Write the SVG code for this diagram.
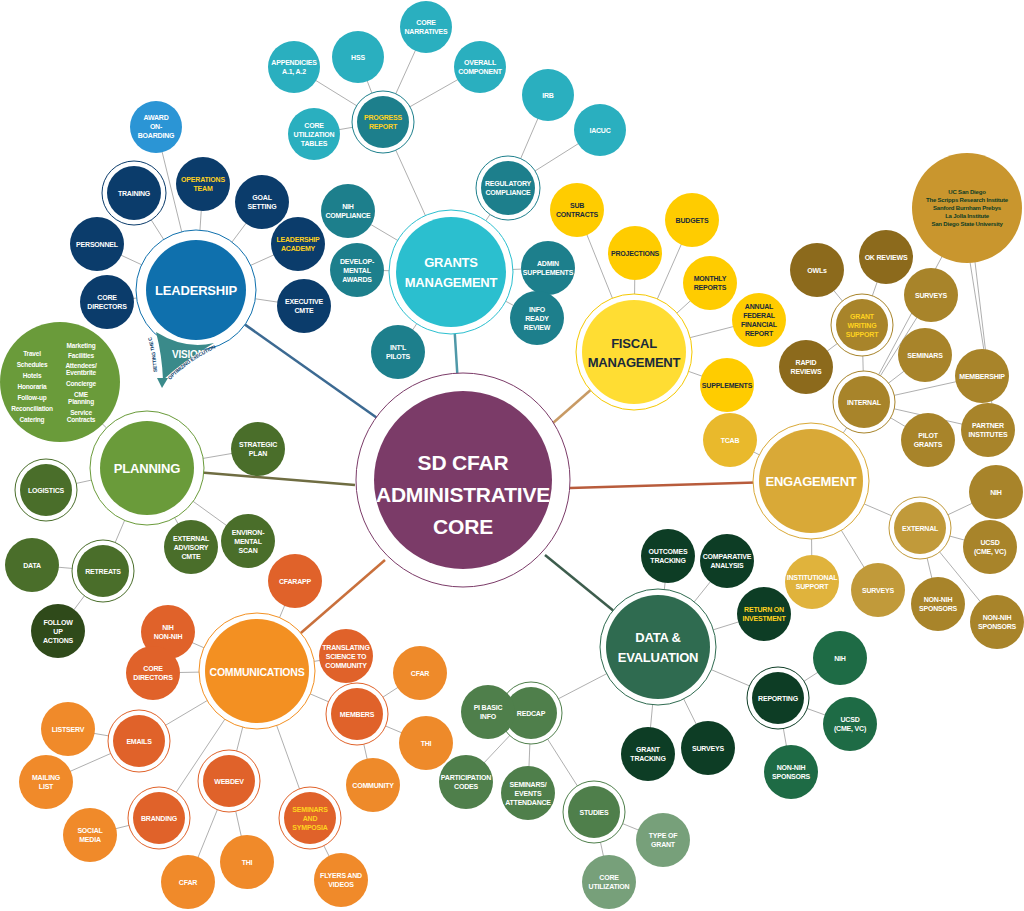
<svg xmlns="http://www.w3.org/2000/svg" width="1024" height="911" viewBox="0 0 1024 911">
<style>
text{font-family:"Liberation Sans Narrow","Liberation Sans",Arial,sans-serif;font-weight:bold;fill:#fff;text-anchor:middle;font-size:7px;letter-spacing:-0.2px}
.y{fill:#ffd21f}.d{fill:#1a2a3a}.g{fill:#0d3d25;font-size:6px}
.hub{font-size:13px}
.cen{font-size:21px}
.lst{font-size:6.5px}
.vis{font-size:10px}
.sm{font-size:5px;fill:#0b3c6b;text-anchor:start}
.ring{fill:#fff;stroke-width:1}
.ln{stroke:#9a9a9a;stroke-width:0.8;fill:none}
</style>
<rect width="1024" height="911" fill="#fff"/>
<g id="connectors">
<g class="ln">
<path d="M196 290L156 127M196 290L134 193M196 290L203 184M196 290L262 202M196 290L97 244M196 290L298 244M196 290L107 302M196 290L304 306"/>
<path d="M451 272L383 122M383 122L294 67M383 122L358 57M383 122L426 27M383 122L480 67M383 122L314 134M451 272L508 188M508 188L548 95M508 188L600 130M451 272L348 211M451 272L357 270M451 272L548 268M451 272L537 318M451 272L398 352"/>
<path d="M634 352L577 210M634 352L692 220M634 352L635 253M634 352L710 283M634 352L759 320M634 352L727 385"/>
<path d="M811 481L730 440M811 481L864 402M864 402L862 325M862 325L817 270M862 325L886 257M864 402L931 295M862 325L806 367M864 402L925 355M864 402L982 376M864 402L988 430M864 402L928 440M864 402L967 210M970 262L988 376M975 262L995 430M811 481L920 528M920 528L996 492M920 528L990 547M920 528L938 604M920 528L997 622M811 481L878 590M811 481L812 582"/>
<path d="M658 647L668 556M658 647L727 561M658 647L764 614M658 647L778 698M778 698L840 658M778 698L850 724M778 698L791 772M658 647L648 754M658 647L708 748M658 647L531 713M531 713L488 712M531 713L466 782M531 713L528 793M531 713L594 812M594 812L663 840M594 812L609 882"/>
<path d="M257 671L295 581M257 671L168 632M257 671L346 656M257 671L153 673M257 671L357 714M357 714L420 673M357 714L426 743M357 714L373 785M257 671L139 741M139 741L68 729M139 741L46 782M257 671L159 818M159 818L90 835M257 671L229 781M229 781L188 882M229 781L247 862M257 671L310 818M310 818L341 880"/>
<path d="M147 468L46 490M147 468L60 382M147 468L258 449M147 468L191 547M147 468L248 541M147 468L103 571M103 571L32 565M103 571L58 631"/>
</g>
<line x1="196" y1="290" x2="380" y2="420" stroke="#3c6a92" stroke-width="2.5"/>
<line x1="451" y1="272" x2="458" y2="385" stroke="#4f98a8" stroke-width="2.5"/>
<line x1="634" y1="352" x2="545" y2="430" stroke="#c89a64" stroke-width="2.5"/>
<line x1="811" y1="481" x2="570" y2="488" stroke="#b85c3c" stroke-width="2.5"/>
<line x1="658" y1="647" x2="545" y2="555" stroke="#3d5d4d" stroke-width="2.5"/>
<line x1="257" y1="671" x2="385" y2="560" stroke="#c9703c" stroke-width="2.5"/>
<line x1="147" y1="468" x2="355" y2="485" stroke="#6f6d42" stroke-width="2.5"/>
</g>

<g id="center">
<circle cx="463" cy="480" r="107" fill="#fff" stroke="#7b3b68" stroke-width="1"/>
<circle cx="463" cy="480" r="89" fill="#7b3b68"/>
<text class="cen" y="470" x="463">SD CFAR</text>
<text class="cen" y="502" x="463">ADMINISTRATIVE</text>
<text class="cen" y="534" x="463">CORE</text>
</g>

<g id="hubs">
<g id="leadership"><circle cx="196" cy="290" r="60" class="ring" stroke="#0f70ad"/><circle cx="196" cy="290" r="50" fill="#0f70ad"/><text class="hub" x="196" y="295">LEADERSHIP</text></g>
<g id="vision">
<path d="M156 332 Q185 350 214 343 Q182 362 163 380 Q162 355 156 332 Z" fill="#3a8a8a"/>
<path d="M157 378 L162 388 L168 378 Z" fill="#3a8a8a"/>
<text class="vis" x="172" y="358" style="text-anchor:start">VISION</text>
<path id="vc1" d="M157 372 Q156 352 151 336" fill="none"/>
<path id="vc2" d="M170 380 Q190 360 216 348" fill="none"/>
<text class="sm"><textPath href="#vc1">SETTING THE CURVE</textPath></text>
<text class="sm"><textPath href="#vc2">OPTIMIZING EXECUTION</textPath></text>
</g>
<g id="grants"><circle cx="451" cy="272" r="62" class="ring" stroke="#2bbfcf"/><circle cx="451" cy="272" r="55" fill="#2bbfcf"/><text class="hub" x="451" y="267">GRANTS</text><text class="hub" x="451" y="287">MANAGEMENT</text></g>
<g id="fiscal"><circle cx="634" cy="352" r="58" class="ring" stroke="#f5c800"/><circle cx="634" cy="352" r="52" fill="#ffdd33"/><text class="hub d" x="634" y="348">FISCAL</text><text class="hub d" x="634" y="367">MANAGEMENT</text></g>
<g id="engagement"><circle cx="811" cy="481" r="58" class="ring" stroke="#d9a937"/><circle cx="811" cy="481" r="52" fill="#d9a937"/><text class="hub" x="811" y="486">ENGAGEMENT</text></g>
<g id="data"><circle cx="658" cy="647" r="58" class="ring" stroke="#2f6b50"/><circle cx="658" cy="647" r="52" fill="#2f6b50"/><text class="hub" x="658" y="642">DATA &amp;</text><text class="hub" x="658" y="662">EVALUATION</text></g>
<g id="communications"><circle cx="257" cy="671" r="58" class="ring" stroke="#f39022"/><circle cx="257" cy="671" r="52" fill="#f39022"/><text class="hub" x="257" y="676" style="font-size:10.5px">COMMUNICATIONS</text></g>
<g id="planning"><circle cx="147" cy="468" r="57" class="ring" stroke="#6a9b3a"/><circle cx="147" cy="468" r="47" fill="#6a9b3a"/><text class="hub" x="147" y="473">PLANNING</text></g>
</g>

<g id="leadership-nodes">
<g><circle cx="156" cy="127" r="26" fill="#2b95d5"/><text x="156" y="120">AWARD<tspan x="156" dy="9">ON-</tspan><tspan x="156" dy="9">BOARDING</tspan></text></g>
<g><circle cx="134" cy="193" r="32" class="ring" stroke="#0b3c6b"/><circle cx="134" cy="193" r="27" fill="#0b3c6b"/><text x="134" y="196">TRAINING</text></g>
<g><circle cx="203" cy="184" r="27" fill="#0b3c6b"/><text class="y" x="203" y="182">OPERATIONS<tspan x="203" dy="9">TEAM</tspan></text></g>
<g><circle cx="262" cy="202" r="27" fill="#0b3c6b"/><text x="262" y="200">GOAL<tspan x="262" dy="9">SETTING</tspan></text></g>
<g><circle cx="97" cy="244" r="27" fill="#0b3c6b"/><text x="97" y="247">PERSONNEL</text></g>
<g><circle cx="298" cy="244" r="27" fill="#0b3c6b"/><text class="y" x="298" y="242">LEADERSHIP<tspan x="298" dy="9">ACADEMY</tspan></text></g>
<g><circle cx="107" cy="302" r="27" fill="#0b3c6b"/><text x="107" y="300">CORE<tspan x="107" dy="9">DIRECTORS</tspan></text></g>
<g><circle cx="304" cy="306" r="27" fill="#0b3c6b"/><text x="304" y="304">EXECUTIVE<tspan x="304" dy="9">CMTE</tspan></text></g>
</g>

<g id="grants-nodes">
<g><circle cx="383" cy="122" r="31" class="ring" stroke="#1d7f8c"/><circle cx="383" cy="122" r="26" fill="#1d7f8c"/><text class="y" x="383" y="120">PROGRESS<tspan x="383" dy="9">REPORT</tspan></text></g>
<g><circle cx="294" cy="67" r="26" fill="#2aafbf"/><text x="294" y="65">APPENDICIES<tspan x="294" dy="9">A.1, A.2</tspan></text></g>
<g><circle cx="358" cy="57" r="26" fill="#2aafbf"/><text x="358" y="60">HSS</text></g>
<g><circle cx="426" cy="27" r="26" fill="#2aafbf"/><text x="426" y="25">CORE<tspan x="426" dy="9">NARRATIVES</tspan></text></g>
<g><circle cx="480" cy="67" r="26" fill="#2aafbf"/><text x="480" y="65">OVERALL<tspan x="480" dy="9">COMPONENT</tspan></text></g>
<g><circle cx="314" cy="134" r="26" fill="#2aafbf"/><text x="314" y="128">CORE<tspan x="314" dy="9">UTILIZATION</tspan><tspan x="314" dy="9">TABLES</tspan></text></g>
<g><circle cx="548" cy="95" r="26" fill="#2aafbf"/><text x="548" y="98">IRB</text></g>
<g><circle cx="600" cy="130" r="26" fill="#2aafbf"/><text x="600" y="133">IACUC</text></g>
<g><circle cx="508" cy="188" r="32" class="ring" stroke="#1d7f8c"/><circle cx="508" cy="188" r="27" fill="#1d7f8c"/><text x="508" y="186">REGULATORY<tspan x="508" dy="9">COMPLIANCE</tspan></text></g>
<g><circle cx="348" cy="211" r="27" fill="#1d7f8c"/><text x="348" y="209">NIH<tspan x="348" dy="9">COMPLIANCE</tspan></text></g>
<g><circle cx="357" cy="270" r="27" fill="#1d7f8c"/><text x="357" y="264">DEVELOP-<tspan x="357" dy="9">MENTAL</tspan><tspan x="357" dy="9">AWARDS</tspan></text></g>
<g><circle cx="548" cy="268" r="27" fill="#1d7f8c"/><text x="548" y="266">ADMIN<tspan x="548" dy="9">SUPPLEMENTS</tspan></text></g>
<g><circle cx="537" cy="318" r="27" fill="#1d7f8c"/><text x="537" y="312">INFO<tspan x="537" dy="9">READY</tspan><tspan x="537" dy="9">REVIEW</tspan></text></g>
<g><circle cx="398" cy="352" r="27" fill="#1d7f8c"/><text x="398" y="350">INT'L<tspan x="398" dy="9">PILOTS</tspan></text></g>
</g>

<g id="fiscal-nodes">
<g><circle cx="577" cy="210" r="27" fill="#ffcc00"/><text class="d" x="577" y="208">SUB<tspan x="577" dy="9">CONTRACTS</tspan></text></g>
<g><circle cx="692" cy="220" r="27" fill="#ffcc00"/><text class="d" x="692" y="223">BUDGETS</text></g>
<g><circle cx="635" cy="253" r="27" fill="#ffcc00"/><text class="d" x="635" y="256">PROJECTIONS</text></g>
<g><circle cx="710" cy="283" r="27" fill="#ffcc00"/><text class="d" x="710" y="281">MONTHLY<tspan x="710" dy="9">REPORTS</tspan></text></g>
<g><circle cx="759" cy="320" r="27" fill="#ffcc00"/><text class="d" x="759" y="309">ANNUAL<tspan x="759" dy="9">FEDERAL</tspan><tspan x="759" dy="9">FINANCIAL</tspan><tspan x="759" dy="9">REPORT</tspan></text></g>
<g><circle cx="727" cy="385" r="27" fill="#ffcc00"/><text class="d" x="727" y="388">SUPPLEMENTS</text></g>
</g>

<g id="engagement-nodes">
<g><circle cx="730" cy="440" r="27" fill="#e9b92c"/><text x="730" y="443">TCAB</text></g>
<g><circle cx="862" cy="325" r="31" class="ring" stroke="#a8842a"/><circle cx="862" cy="325" r="26" fill="#a8842a"/><text class="y" x="862" y="319">GRANT<tspan x="862" dy="9">WRITING</tspan><tspan x="862" dy="9">SUPPORT</tspan></text></g>
<g><circle cx="817" cy="270" r="27" fill="#8c6a1c"/><text x="817" y="273">OWLs</text></g>
<g><circle cx="886" cy="257" r="27" fill="#8c6a1c"/><text x="886" y="260">OK REVIEWS</text></g>
<g><circle cx="931" cy="295" r="27" fill="#a8842a"/><text x="931" y="298">SURVEYS</text></g>
<g><circle cx="806" cy="367" r="27" fill="#8c6a1c"/><text x="806" y="365">RAPID<tspan x="806" dy="9">REVIEWS</tspan></text></g>
<g><circle cx="864" cy="402" r="31" class="ring" stroke="#a8842a"/><circle cx="864" cy="402" r="26" fill="#a8842a"/><text x="864" y="405">INTERNAL</text></g>
<g><circle cx="925" cy="355" r="27" fill="#a8842a"/><text x="925" y="358">SEMINARS</text></g>
<g><circle cx="982" cy="376" r="27" fill="#a8842a"/><text x="982" y="379">MEMBERSHIP</text></g>
<g><circle cx="988" cy="430" r="27" fill="#a8842a"/><text x="988" y="428">PARTNER<tspan x="988" dy="9">INSTITUTES</tspan></text></g>
<g><circle cx="928" cy="440" r="27" fill="#a8842a"/><text x="928" y="438">PILOT<tspan x="928" dy="9">GRANTS</tspan></text></g>
<g><circle cx="967" cy="208" r="55" fill="#c9962e"/><text class="g" x="967" y="194">UC San Diego<tspan x="967" dy="8">The Scripps Research Institute</tspan><tspan x="967" dy="8">Sanford Burnham Prebys</tspan><tspan x="967" dy="8">La Jolla Institute</tspan><tspan x="967" dy="8">San Diego State University</tspan></text></g>
<g><circle cx="920" cy="528" r="31" class="ring" stroke="#c19a3a"/><circle cx="920" cy="528" r="26" fill="#c19a3a"/><text x="920" y="531">EXTERNAL</text></g>
<g><circle cx="996" cy="492" r="27" fill="#a8842a"/><text x="996" y="495">NIH</text></g>
<g><circle cx="990" cy="547" r="27" fill="#a8842a"/><text x="990" y="545">UCSD<tspan x="990" dy="9">(CME, VC)</tspan></text></g>
<g><circle cx="938" cy="604" r="27" fill="#a8842a"/><text x="938" y="602">NON-NIH<tspan x="938" dy="9">SPONSORS</tspan></text></g>
<g><circle cx="997" cy="622" r="27" fill="#a8842a"/><text x="997" y="620">NON-NIH<tspan x="997" dy="9">SPONSORS</tspan></text></g>
<g><circle cx="878" cy="590" r="27" fill="#c19a3a"/><text x="878" y="593">SURVEYS</text></g>
<g><circle cx="812" cy="582" r="27" fill="#e0b33c"/><text x="812" y="580">INSTITUTIONAL<tspan x="812" dy="9">SUPPORT</tspan></text></g>
</g>

<g id="data-nodes">
<g><circle cx="668" cy="556" r="27" fill="#0d3d25"/><text x="668" y="554">OUTCOMES<tspan x="668" dy="9">TRACKING</tspan></text></g>
<g><circle cx="727" cy="561" r="27" fill="#0d3d25"/><text x="727" y="559">COMPARATIVE<tspan x="727" dy="9">ANALYSIS</tspan></text></g>
<g><circle cx="764" cy="614" r="27" fill="#0d3d25"/><text class="y" x="764" y="612">RETURN ON<tspan x="764" dy="9">INVESTMENT</tspan></text></g>
<g><circle cx="778" cy="698" r="31" class="ring" stroke="#0d3d25"/><circle cx="778" cy="698" r="26" fill="#0d3d25"/><text x="778" y="701">REPORTING</text></g>
<g><circle cx="840" cy="658" r="27" fill="#1e6b45"/><text x="840" y="661">NIH</text></g>
<g><circle cx="850" cy="724" r="27" fill="#1e6b45"/><text x="850" y="722">UCSD<tspan x="850" dy="9">(CME, VC)</tspan></text></g>
<g><circle cx="791" cy="772" r="27" fill="#1e6b45"/><text x="791" y="770">NON-NIH<tspan x="791" dy="9">SPONSORS</tspan></text></g>
<g><circle cx="648" cy="754" r="27" fill="#0d3d25"/><text x="648" y="752">GRANT<tspan x="648" dy="9">TRACKING</tspan></text></g>
<g><circle cx="708" cy="748" r="27" fill="#0d3d25"/><text x="708" y="751">SURVEYS</text></g>
<g><circle cx="531" cy="713" r="31" class="ring" stroke="#4f7f4b"/><circle cx="531" cy="713" r="26" fill="#4f7f4b"/><text x="531" y="716">REDCAP</text></g>
<g><circle cx="488" cy="712" r="27" fill="#4f7f4b"/><text x="488" y="710">PI BASIC<tspan x="488" dy="9">INFO</tspan></text></g>
<g><circle cx="466" cy="782" r="27" fill="#4f7f4b"/><text x="466" y="780">PARTICIPATION<tspan x="466" dy="9">CODES</tspan></text></g>
<g><circle cx="528" cy="793" r="27" fill="#4f7f4b"/><text x="528" y="787">SEMINARS/<tspan x="528" dy="9">EVENTS</tspan><tspan x="528" dy="9">ATTENDANCE</tspan></text></g>
<g><circle cx="594" cy="812" r="31" class="ring" stroke="#4f7f4b"/><circle cx="594" cy="812" r="26" fill="#4f7f4b"/><text x="594" y="815">STUDIES</text></g>
<g><circle cx="663" cy="840" r="27" fill="#77a07a"/><text x="663" y="838">TYPE OF<tspan x="663" dy="9">GRANT</tspan></text></g>
<g><circle cx="609" cy="882" r="27" fill="#77a07a"/><text x="609" y="880">CORE<tspan x="609" dy="9">UTILIZATION</tspan></text></g>
</g>

<g id="comm-nodes">
<g><circle cx="295" cy="581" r="27" fill="#e0622a"/><text x="295" y="584">CFARAPP</text></g>
<g><circle cx="168" cy="632" r="27" fill="#e0622a"/><text x="168" y="630">NIH<tspan x="168" dy="9">NON-NIH</tspan></text></g>
<g><circle cx="346" cy="656" r="27" fill="#e0622a"/><text x="346" y="650">TRANSLATING<tspan x="346" dy="9">SCIENCE TO</tspan><tspan x="346" dy="9">COMMUNITY</tspan></text></g>
<g><circle cx="153" cy="673" r="27" fill="#e0622a"/><text x="153" y="671">CORE<tspan x="153" dy="9">DIRECTORS</tspan></text></g>
<g><circle cx="357" cy="714" r="31" class="ring" stroke="#e0622a"/><circle cx="357" cy="714" r="26" fill="#e0622a"/><text x="357" y="717">MEMBERS</text></g>
<g><circle cx="420" cy="673" r="27" fill="#ee8a2a"/><text x="420" y="676">CFAR</text></g>
<g><circle cx="426" cy="743" r="27" fill="#ee8a2a"/><text x="426" y="746">THI</text></g>
<g><circle cx="373" cy="785" r="27" fill="#ee8a2a"/><text x="373" y="788">COMMUNITY</text></g>
<g><circle cx="139" cy="741" r="31" class="ring" stroke="#e0622a"/><circle cx="139" cy="741" r="26" fill="#e0622a"/><text x="139" y="744">EMAILS</text></g>
<g><circle cx="68" cy="729" r="27" fill="#f08a2a"/><text x="68" y="732">LISTSERV</text></g>
<g><circle cx="46" cy="782" r="27" fill="#f08a2a"/><text x="46" y="780">MAILING<tspan x="46" dy="9">LIST</tspan></text></g>
<g><circle cx="159" cy="818" r="31" class="ring" stroke="#e0622a"/><circle cx="159" cy="818" r="26" fill="#e0622a"/><text x="159" y="821">BRANDING</text></g>
<g><circle cx="90" cy="835" r="27" fill="#f08a2a"/><text x="90" y="833">SOCIAL<tspan x="90" dy="9">MEDIA</tspan></text></g>
<g><circle cx="188" cy="882" r="27" fill="#f08a2a"/><text x="188" y="885">CFAR</text></g>
<g><circle cx="247" cy="862" r="27" fill="#f08a2a"/><text x="247" y="865">THI</text></g>
<g><circle cx="229" cy="781" r="31" class="ring" stroke="#e0622a"/><circle cx="229" cy="781" r="26" fill="#e0622a"/><text x="229" y="784">WEBDEV</text></g>
<g><circle cx="310" cy="818" r="31" class="ring" stroke="#e0622a"/><circle cx="310" cy="818" r="26" fill="#e0622a"/><text class="y" x="310" y="812">SEMINARS<tspan x="310" dy="9">AND</tspan><tspan x="310" dy="9">SYMPOSIA</tspan></text></g>
<g><circle cx="341" cy="880" r="27" fill="#f08a2a"/><text x="341" y="878">FLYERS AND<tspan x="341" dy="9">VIDEOS</tspan></text></g>
</g>

<g id="planning-nodes">
<g><circle cx="46" cy="490" r="31" class="ring" stroke="#4a6e2a"/><circle cx="46" cy="490" r="26" fill="#4a6e2a"/><text x="46" y="493">LOGISTICS</text></g>
<g><circle cx="60" cy="382" r="60" fill="#6a9b3a"/>
<text class="lst" x="32" y="356">Travel<tspan x="32" dy="11">Schedules</tspan><tspan x="32" dy="11">Hotels</tspan><tspan x="32" dy="11">Honoraria</tspan><tspan x="32" dy="11">Follow-up</tspan><tspan x="32" dy="11">Reconciliation</tspan><tspan x="32" dy="11">Catering</tspan></text>
<text class="lst" x="81" y="348">Marketing<tspan x="81" dy="10">Facilities</tspan><tspan x="81" dy="10">Attendees/</tspan><tspan x="81" dy="7">Eventbrite</tspan><tspan x="81" dy="11">Concierge</tspan><tspan x="81" dy="11">CME</tspan><tspan x="81" dy="7">Planning</tspan><tspan x="81" dy="11">Service</tspan><tspan x="81" dy="7">Contracts</tspan></text></g>
<g><circle cx="258" cy="449" r="27" fill="#4a6e2a"/><text x="258" y="447">STRATEGIC<tspan x="258" dy="9">PLAN</tspan></text></g>
<g><circle cx="191" cy="547" r="27" fill="#4a6e2a"/><text x="191" y="541">EXTERNAL<tspan x="191" dy="9">ADVISORY</tspan><tspan x="191" dy="9">CMTE</tspan></text></g>
<g><circle cx="248" cy="541" r="27" fill="#4a6e2a"/><text x="248" y="535">ENVIRON-<tspan x="248" dy="9">MENTAL</tspan><tspan x="248" dy="9">SCAN</tspan></text></g>
<g><circle cx="32" cy="565" r="27" fill="#4a6e2a"/><text x="32" y="568">DATA</text></g>
<g><circle cx="103" cy="571" r="31" class="ring" stroke="#4a6e2a"/><circle cx="103" cy="571" r="26" fill="#4a6e2a"/><text x="103" y="574">RETREATS</text></g>
<g><circle cx="58" cy="631" r="27" fill="#2f4a1a"/><text x="58" y="625">FOLLOW<tspan x="58" dy="9">UP</tspan><tspan x="58" dy="9">ACTIONS</tspan></text></g>
</g>
</svg>
